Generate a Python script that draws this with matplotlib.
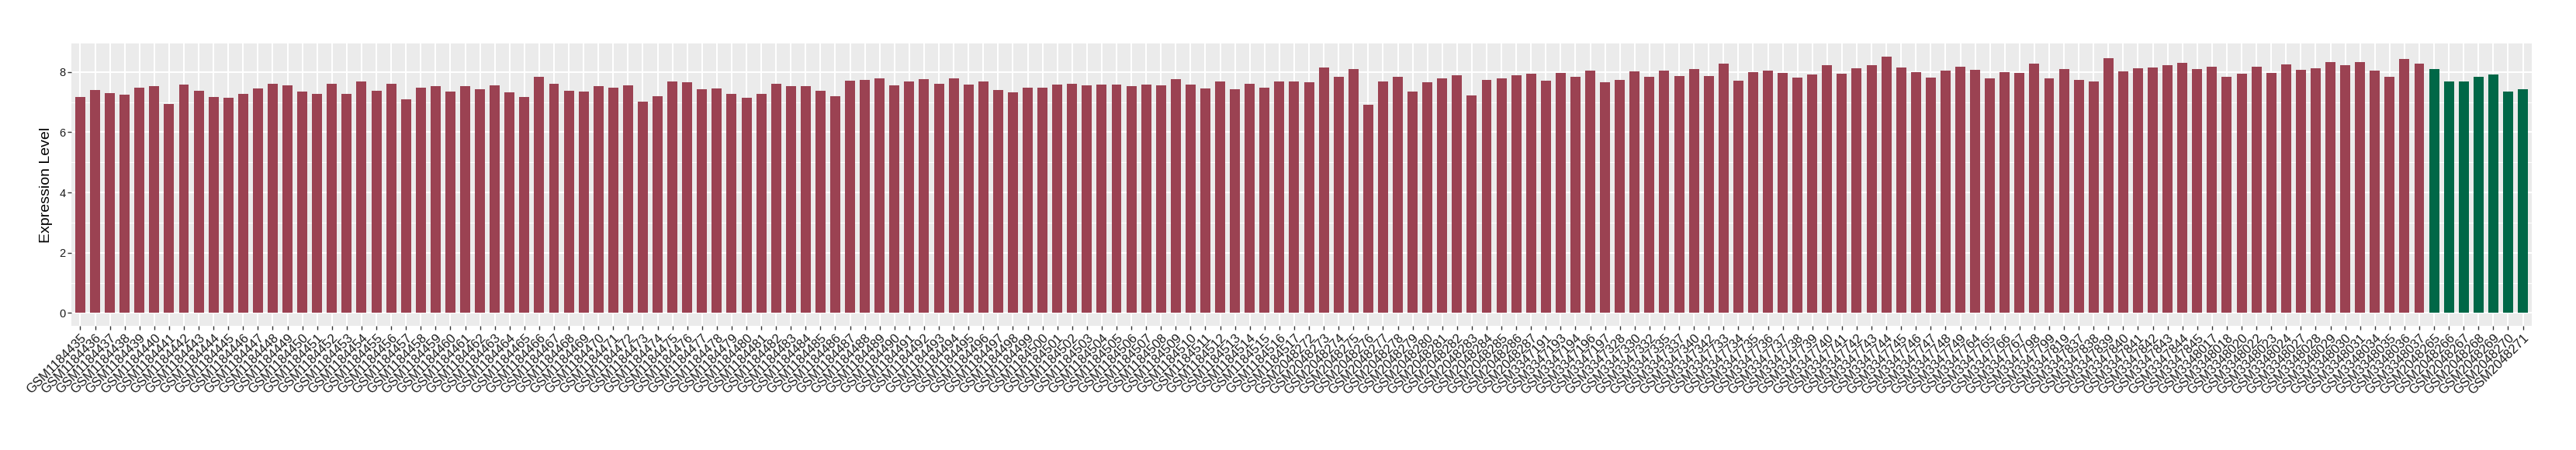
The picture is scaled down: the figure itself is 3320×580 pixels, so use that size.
import matplotlib
matplotlib.use("Agg")
import matplotlib.pyplot as plt
from matplotlib.ticker import MultipleLocator

# sample names (red group first, then green group)
red_samples = [
    "GSM1184435", "GSM1184436", "GSM1184437", "GSM1184438", "GSM1184439", "GSM1184440",
    "GSM1184441", "GSM1184442", "GSM1184443", "GSM1184444", "GSM1184445", "GSM1184446",
    "GSM1184447", "GSM1184448", "GSM1184449", "GSM1184450", "GSM1184451", "GSM1184452",
    "GSM1184453", "GSM1184454", "GSM1184455", "GSM1184456", "GSM1184457", "GSM1184458",
    "GSM1184459", "GSM1184460", "GSM1184461", "GSM1184462", "GSM1184463", "GSM1184464",
    "GSM1184465", "GSM1184466", "GSM1184467", "GSM1184468", "GSM1184469", "GSM1184470",
    "GSM1184471", "GSM1184472", "GSM1184473", "GSM1184474", "GSM1184475", "GSM1184476",
    "GSM1184477", "GSM1184478", "GSM1184479", "GSM1184480", "GSM1184481", "GSM1184482",
    "GSM1184483", "GSM1184484", "GSM1184485", "GSM1184486", "GSM1184487", "GSM1184488",
    "GSM1184489", "GSM1184490", "GSM1184491", "GSM1184492", "GSM1184493", "GSM1184494",
    "GSM1184495", "GSM1184496", "GSM1184497", "GSM1184498", "GSM1184499", "GSM1184500",
    "GSM1184501", "GSM1184502", "GSM1184503", "GSM1184504", "GSM1184505", "GSM1184506",
    "GSM1184507", "GSM1184508", "GSM1184509", "GSM1184510", "GSM1184511", "GSM1184512",
    "GSM1184513", "GSM1184514", "GSM1184515", "GSM1184516", "GSM1184517",
    "GSM2048272", "GSM2048273", "GSM2048274", "GSM2048275", "GSM2048276", "GSM2048277",
    "GSM2048278", "GSM2048279", "GSM2048280", "GSM2048281", "GSM2048282", "GSM2048283",
    "GSM2048284", "GSM2048285", "GSM2048286", "GSM2048287",
    "GSM3347191", "GSM3347193", "GSM3347194", "GSM3347196", "GSM3347197", "GSM3347328",
    "GSM3347330", "GSM3347332", "GSM3347335", "GSM3347337", "GSM3347340", "GSM3347342",
    "GSM3347733", "GSM3347734", "GSM3347735", "GSM3347736", "GSM3347737", "GSM3347738",
    "GSM3347739", "GSM3347740", "GSM3347741", "GSM3347742", "GSM3347743", "GSM3347744",
    "GSM3347745", "GSM3347746", "GSM3347747", "GSM3347748", "GSM3347749",
    "GSM3347764", "GSM3347765", "GSM3347766", "GSM3347767", "GSM3347798", "GSM3347799",
    "GSM3347819", "GSM3347837", "GSM3347838", "GSM3347839", "GSM3347840", "GSM3347841",
    "GSM3347842", "GSM3347843", "GSM3347844", "GSM3347845",
    "GSM3348017", "GSM3348018", "GSM3348020", "GSM3348022", "GSM3348023", "GSM3348024",
    "GSM3348027", "GSM3348028", "GSM3348029", "GSM3348030", "GSM3348031", "GSM3348034",
    "GSM3348035", "GSM3348036", "GSM3348037",
]
red_values = [
    7.17, 7.40, 7.30, 7.25, 7.47, 7.52, 6.95, 7.57, 7.38, 7.17, 7.15, 7.27,
    7.44, 7.60, 7.55, 7.35, 7.27, 7.60, 7.27, 7.69, 7.38, 7.60, 7.10, 7.47,
    7.52, 7.35, 7.52, 7.43, 7.55, 7.32, 7.17, 7.85, 7.60, 7.38, 7.35, 7.52,
    7.47, 7.55, 7.02, 7.20, 7.68, 7.65, 7.43, 7.44, 7.27, 7.15, 7.27, 7.60,
    7.52, 7.52, 7.38, 7.20, 7.72, 7.74, 7.80, 7.55, 7.68, 7.77, 7.62, 7.80,
    7.57, 7.69, 7.40, 7.32, 7.47, 7.47, 7.57, 7.62, 7.55, 7.57, 7.57, 7.52,
    7.57, 7.55, 7.77, 7.57, 7.44, 7.68, 7.43, 7.60, 7.47, 7.69, 7.69,
    7.65, 8.15, 7.85, 8.10, 6.90, 7.69, 7.85, 7.35, 7.65, 7.80, 7.90, 7.22,
    7.74, 7.80, 7.90, 7.94,
    7.72, 7.97, 7.85, 8.04, 7.65, 7.74, 8.02, 7.85, 8.04, 7.87, 8.10, 7.87,
    8.27, 7.72, 7.99, 8.04, 7.97, 7.82, 7.92, 8.22, 7.94, 8.12, 8.22, 8.52,
    8.15, 7.99, 7.82, 8.04, 8.17,
    8.07, 7.80, 7.99, 7.97, 8.27, 7.80, 8.10, 7.74, 7.69, 8.46, 8.02, 8.12,
    8.15, 8.22, 8.29, 8.10,
    8.17, 7.85, 7.94, 8.17, 7.97, 8.24, 8.07, 8.12, 8.32, 8.22, 8.34, 8.04,
    7.85, 8.42, 8.27,
]
green_samples = ["GSM2048265", "GSM2048266", "GSM2048267", "GSM2048268",
                 "GSM2048269", "GSM2048270", "GSM2048271"]
green_values = [8.10, 7.69, 7.68, 7.85, 7.92, 7.35, 7.43]

samples = red_samples + green_samples
values = red_values + green_values
colors = ["#9B4252"] * len(red_samples) + ["#006747"] * len(green_samples)

plt.rcParams['font.family'] = ['Liberation Sans', 'DejaVu Sans']

fig = plt.figure(figsize=(33.2, 5.8), dpi=100)
ax = fig.add_axes([92 / 3320, 1 - 420 / 580, (3263 - 92) / 3320, (420 - 56) / 580])

x = list(range(len(samples)))
ax.bar(x, values, width=0.68, color=colors, zorder=3)

ax.set_facecolor("#EBEBEB")
for s in ax.spines.values():
    s.set_visible(False)
ax.set_xlim(-0.6, len(samples) - 1 + 0.6)
ax.set_ylim(-0.426, 8.946)
ax.yaxis.set_major_locator(MultipleLocator(2))
ax.yaxis.set_minor_locator(MultipleLocator(1))
ax.grid(which="major", axis="both", color="white", linewidth=1.5, zorder=0)
ax.grid(which="minor", axis="y", color="white", linewidth=0.7, zorder=0)
ax.set_axisbelow(True)

ax.set_xticks(x)
ax.set_xticklabels(samples, rotation=45, ha="right", va="top",
                   rotation_mode="anchor", fontsize=12, color="#1A1A1A")
ax.tick_params(axis="x", which="major", length=3.5, width=1, color="#333333", pad=2)
ax.tick_params(axis="y", which="major", length=3.5, width=1, color="#333333",
               labelsize=10.5, labelcolor="#1A1A1A", pad=2)
ax.tick_params(axis="y", which="minor", length=0)
ax.set_ylabel("Expression Level", fontsize=14, labelpad=6)

fig.savefig("out.png", dpi=100)
